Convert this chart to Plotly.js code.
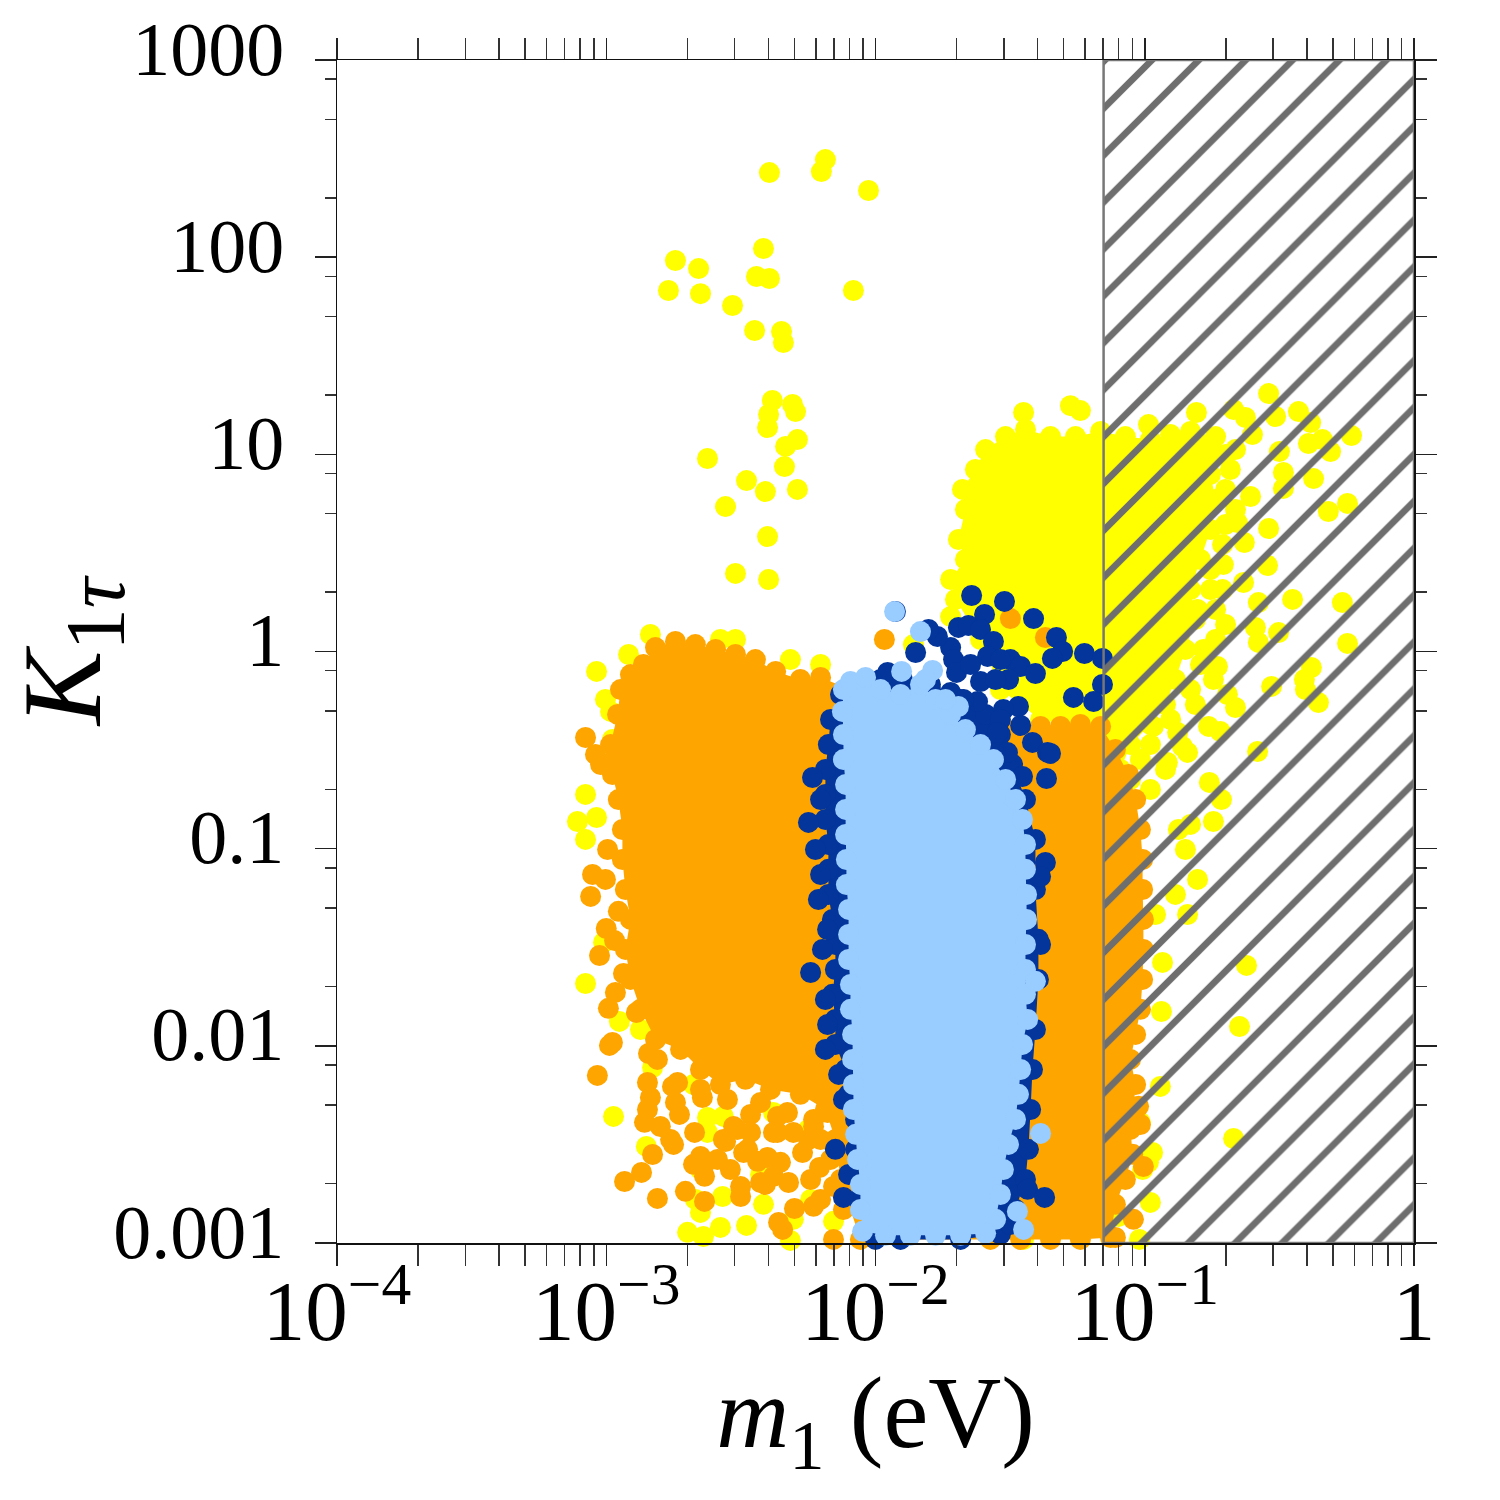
<!DOCTYPE html>
<html><head><meta charset="utf-8">
<script src="https://cdn.plot.ly/plotly-3.0.1.min.js"></script>
<style>html,body{margin:0;padding:0;background:#fff}</style>
</head><body><div id="chart" style="width:1500px;height:1500px"></div>
<script>
const yellowBlobLogM=[-1.666,-1.692,-1.666,-1.677,-1.629,-1.591,-1.517,-1.443,-1.350,-1.257,-1.164,-1.072,-.979,-.904,-.830,-.737,-.700,-.756,-.737,-.756,-.793,-.830,-.812,-.849,-.886,-.923,-.979,-1.053,-1.090,-1.164,-1.387,-1.536,-1.610,-1.703,-1.721];
const yellowBlobLogK=[.467,.568,.720,.822,.923,1.024,1.090,1.126,1.090,1.090,1.116,1.090,1.075,1.100,1.116,1.090,.999,.898,.771,.619,.467,.314,.162,.010,-.142,-.269,-.370,-.472,-.598,-.396,-.345,-.193,.061,.264,.365];
const yellowLogM=[-2.394,-2.186,-2.201,-2.026,-2.416,-2.743,-2.657,-2.769,-2.650,-2.442,-2.394,-2.082,-2.531,-2.449,-2.349,-2.342,-2.383,-2.397,-2.308,-2.297,-2.401,-2.290,-2.334,-2.624,-2.338,-2.479,-2.409,-2.290,-2.557,-2.401,-2.520,-2.397,
-.540,-.514,-.429,-.384,-.232,-.392,-.310,-.500,-.340,-.485,-.485,-.373,-.318,-.247,-.540,-.630,-.544,-.451,-.266,-.247,-.503,-.589,-.578,-.381,-.407,-.403,-.355,-.529,-.581,-.719,-.760,-.663,-.693,-.730,-.782,-.607,-.656,-.578,-.633,-.708,-.756,-.804,-.968,-.878,-.860,-.979,-.916,-.841,-.763,-.745,-1.276,-1.239,-1.450,-.808,-.670,-.626,-.600,-.715,-.745,-.830,-.875,-.849,-.804,-.886,-.960,-.841,-.934,-.622,-.938,-.648,-.942,-.670,-1.016,-.971,-.986,-1.008,-.979,-1.020,-1.097,-1.450,-1.053,-.979,-.923,
-3.036,-2.984,-3.077,-3.107,-3.077,-3.036,-3.077,-2.973,-2.851,-2.951,-2.873,-2.828,-2.676,-2.624,-2.565,-2.624,-2.568,-2.698,-2.639,-2.576,-2.479,-2.416,-2.316,-2.305,-2.156,-3.010,-2.379,-2.249,-2.669,-2.650,-2.917,-2.836,-2.520,-2.576,-2.316,-3.003,-2.977,-2.204,-2.650,-2.427,-2.241,-1.859,-1.721,
-.682,-.700,-.663,-.700,-.711,-.756,-.711,-.737,-.700,-.737,-.793,-.830,-.812,-.904,-1.016,-.774,-.663,-.986];
const yellowLogK=[2.429,2.495,2.434,2.338,2.044,1.983,1.942,1.831,1.815,1.902,1.892,1.831,1.755,1.628,1.623,1.567,1.273,1.202,1.253,1.217,1.136,1.075,1.040,.979,.938,.867,.811,.822,.735,.583,.396,.365,
1.308,1.192,1.217,1.161,1.095,1.055,1.014,1.014,1.075,.908,.827,.877,.710,.751,.624,.553,.436,.264,.248,.041,.096,.122,.046,-.081,-.142,-.193,-.259,-.177,-.507,-.406,-.664,-.284,-.218,-.076,.010,.786,.654,.248,.350,.441,.314,.213,-.380,-.411,-.482,-.472,-.563,-.512,-.380,-.142,1.247,1.222,1.212,1.212,1.227,1.187,1.100,-.751,-.862,-.877,-.903,-1.004,-1.156,-1.232,-1.334,-1.334,-1.577,-1.592,-1.826,-1.902,-2.206,-2.470,-2.388,-2.541,-2.591,-2.627,-2.794,-2.982,-2.865,-2.982,-.649,-.700,-.598,
-.101,-.304,-.725,-.862,-.953,-.842,-1.684,-2.358,-2.510,-1.876,-1.917,-2.110,-2.196,-2.363,-2.358,-2.439,-2.764,-2.946,-2.967,-2.921,-2.911,-2.804,-2.987,-2.880,-2.890,-1.476,-2.338,-2.424,-2.779,-2.845,-.015,.086,.061,.061,-.041,-.243,-.446,-.066,-2.627,-2.652,-2.779,.035,.177,
.923,.822,.720,.644,.543,.416,.314,.213,.137,.061,-.066,-.193,-.269,-.345,-.548,1.024,1.024,1.151];

const orangeBlobLogM=[-2.862,-2.817,-2.743,-2.669,-2.594,-2.520,-2.446,-2.371,-2.279,-2.204,-2.093,-1.387,-1.313,-1.239,-1.164,-1.109,-1.060,-1.034,-1.016,-1.008,-1.008,-1.005,-1.005,-1.008,-1.016,-1.034,-1.053,-1.034,-1.042,-1.053,-1.045,-1.072,-1.109,-1.127,-1.239,-1.350,-1.461,-1.573,-2.056,-2.130,-2.149,-2.186,-2.279,-2.390,-2.483,-2.576,-2.650,-2.724,-2.817,-2.873,-2.910,-2.929,-2.910,-2.929,-2.940,-2.940,-2.955,-2.977,-2.984,-2.958,-2.947,-2.910];
const orangeBlobLogK=[-.066,.020,.051,.035,.010,-.015,-.041,-.101,-.142,-.132,-.193,-.380,-.380,-.370,-.380,-.497,-.624,-.751,-.903,-1.055,-1.207,-1.359,-1.511,-1.663,-1.815,-1.942,-2.069,-2.196,-2.323,-2.424,-2.550,-2.678,-2.804,-2.972,-2.982,-2.982,-2.982,-2.982,-2.982,-2.678,-2.475,-2.323,-2.246,-2.221,-2.170,-2.196,-2.120,-2.018,-1.968,-1.815,-1.663,-1.511,-1.359,-1.207,-1.055,-.903,-.751,-.624,-.472,-.319,-.193,-.117];
const orangeLogM=[-3.077,-3.040,-3.021,-2.977,-2.995,-3.051,-3.058,-3.003,-2.955,-3.000,-2.969,-3.025,-2.936,-2.966,-2.992,-2.888,-2.988,-2.977,-3.033,-2.843,-2.847,-2.836,-2.847,-2.858,-2.799,-2.750,-2.828,-2.869,-2.932,-2.810,-2.706,-2.635,-2.635,-2.676,-2.672,-2.728,-2.743,-2.754,-2.643,-2.557,-2.539,-2.501,-2.409,-2.490,-2.438,-2.323,-2.353,-2.271,-2.241,-2.208,-2.301,-2.230,-2.360,-2.345,-2.156,-2.204,-2.156,-2.119,-2.364,-2.513,-2.464,-2.364,-2.305,-1.967,-1.499,-1.369,-1.023,-1.016,-1.005,-1.042,-1.109,
-2.650,-2.587,-2.475,-2.401,-2.379,-2.249,-2.464,-2.527,-2.565,-2.230,-2.178,-2.379,-2.501,-2.427,-2.639,-2.230,-2.761,-2.327,-2.427,-2.550,-2.650,-2.735,-2.810,-2.204,-2.167];
const orangeLogK=[-.436,-.522,-.573,-.558,-1.004,-1.131,-1.242,-1.156,-1.318,-1.405,-1.466,-1.542,-1.633,-1.729,-1.810,-1.831,-1.998,-1.983,-2.150,-2.039,-2.186,-2.262,-2.323,-2.388,-2.409,-2.500,-2.551,-2.642,-2.688,-2.774,-2.738,-2.789,-2.662,-2.601,-2.439,-2.348,-2.287,-2.206,-2.262,-2.485,-2.627,-2.764,-2.703,-2.541,-2.586,-2.693,-2.591,-2.541,-2.678,-2.617,-2.825,-2.814,-2.896,-2.931,-2.982,-2.779,-2.713,-2.830,-2.439,-2.424,-2.348,-2.358,-2.439,.061,.167,.071,-2.307,-2.399,-2.612,-2.880,-2.972,
-2.561,-2.576,-2.525,-2.566,-2.439,-2.475,-2.439,-2.409,-2.475,-2.373,-2.338,-2.662,-2.713,-2.693,-2.612,-2.409,-2.475,-2.338,-2.287,-2.272,-2.221,-2.186,-2.069,-2.475,-2.576];

const navyBlobLogM=[-2.130,-2.167,-2.175,-2.186,-2.186,-2.186,-2.175,-2.175,-2.175,-2.160,-2.149,-2.149,-2.160,-2.149,-2.149,-2.111,-2.100,-2.074,-2.074,-2.074,-2.063,-2.000,-1.907,-1.684,-1.536,-1.480,-1.443,-1.432,-1.424,-1.417,-1.406,-1.395,-1.395,-1.406,-1.406,-1.443,-1.491,-1.536,-1.591,-1.684,-1.796,-1.981];
const navyBlobLogK=[-.218,-.345,-.472,-.598,-.725,-.852,-.979,-1.105,-1.232,-1.359,-1.486,-1.613,-1.739,-1.866,-1.993,-2.120,-2.246,-2.373,-2.525,-2.652,-2.779,-2.982,-2.982,-2.982,-2.956,-2.830,-2.678,-2.525,-2.323,-2.120,-1.917,-1.663,-1.460,-1.207,-.953,-.751,-.573,-.421,-.319,-.243,-.167,-.142];
const navyLogM=[-2.234,-2.249,-2.204,-2.223,-2.204,-2.212,-2.178,-2.241,-2.197,-2.186,-2.178,-2.186,-2.137,-2.119,-2.149,-2.100,-2.119,-1.369,-1.387,-1.387,-1.435,-1.372,-1.499,
-1.643,-1.521,-1.413,-1.595,-1.692,-1.655,-1.610,-1.562,-1.721,-1.770,-1.803,-1.851,-1.710,-1.699,-1.610,-1.584,-1.499,-1.461,-1.506,-1.406,-1.328,-1.305,-1.343,-1.224,-1.157,-1.157,-1.190,-1.265,-1.621,-1.469,-1.525,-1.536,-1.461,-1.417,-1.361,-1.350,-1.365,-1.454,-1.955,-1.900,-1.796,-1.721,-1.673,-1.547,-1.510,-1.926,-1.647,-1.536,-1.554];
const navyLogK=[-.639,-.867,-.751,-1.004,-1.131,-1.258,-1.410,-1.628,-1.511,-1.765,-1.892,-2.018,-2.145,-2.272,-2.525,-2.652,-2.769,-1.070,-1.141,-1.486,-2.728,-2.769,-2.906,
.284,.254,.167,.188,.122,.132,.112,.051,.020,.076,.112,-.005,-.041,-.106,-.152,-.025,-.041,-.076,-.142,-.112,.071,.000,-.035,-.010,-.035,-.167,-.254,-.233,-.254,-.279,-.294,-.345,-.375,-.461,-.512,-.517,-.644,-.634,-.106,-.142,-.193,-.208,-.243,-.411,-.512,.203,-.066,-.041,-.142];

const skyBlobLogM=[-2.119,-2.093,-2.037,-1.981,-1.907,-1.833,-1.777,-1.721,-1.666,-1.610,-1.562,-1.517,-1.480,-1.454,-1.443,-1.443,-1.439,-1.439,-1.443,-1.443,-1.443,-1.435,-1.454,-1.461,-1.469,-1.480,-1.506,-1.525,-1.536,-1.554,-1.591,-1.684,-1.777,-1.870,-1.963,-2.048,-2.056,-2.056,-2.067,-2.074,-2.082,-2.082,-2.085,-2.085,-2.093,-2.093,-2.100,-2.100,-2.100,-2.108,-2.108,-2.111,-2.111,-2.111,-2.119,-2.119,-2.123];
const skyBlobLogK=[-.193,-.152,-.132,-.193,-.218,-.167,-.243,-.319,-.396,-.472,-.548,-.649,-.751,-.852,-.979,-1.105,-1.232,-1.359,-1.486,-1.613,-1.739,-1.866,-1.993,-2.120,-2.246,-2.373,-2.500,-2.627,-2.754,-2.880,-2.951,-2.961,-2.961,-2.961,-2.961,-2.941,-2.830,-2.703,-2.576,-2.449,-2.323,-2.196,-2.069,-1.942,-1.815,-1.689,-1.562,-1.435,-1.308,-1.182,-1.055,-.928,-.801,-.674,-.548,-.421,-.304];
const skyLogM=[-1.929,-1.833,-1.903,-1.788,-1.692,-1.740,-1.814,-1.387,-1.406,-1.473,-1.450];
const skyLogK=[.203,.101,-.101,-.096,-.279,-.243,-.142,-2.444,-1.673,-2.840,-2.931];

// excluded region
const excludedM=[0.0703,1,1,0.0703,0.0703];
const excludedK=[0.001,0.001,1000,1000,0.001];

const xTickVals=[1e-4,1e-3,1e-2,1e-1,1];
const xTickText=['10<sup>\u22124</sup>','10<sup>\u22123</sup>','10<sup>\u22122</sup>','10<sup>\u22121</sup>','1'];
const yTickVals=[1e-3,1e-2,1e-1,1,10,100,1000];
const yTickText=['0.001','0.01','0.1','1','10','100','1000'];
const xMinor=[];[1e-4,1e-3,1e-2,1e-1].forEach(d=>[2,3,4,5,6,7,8,9].forEach(k=>xMinor.push(k*d)));
const yMinor=[];[1e-3,1e-2,1e-1,1,10,100].forEach(d=>[2,5,8].forEach(k=>yMinor.push(k*d)));

const pow=a=>a.map(v=>Math.pow(10,v));
const MS=21;
const blob=(x,y,c)=>({type:'scatter',mode:'markers',x:pow(x),y:pow(y),fill:'toself',fillcolor:c,
  marker:{size:MS,color:c,line:{width:0}},cliponaxis:false,hoverinfo:'skip',showlegend:false});
const dots=(x,y,c)=>({type:'scatter',mode:'markers',x:pow(x),y:pow(y),
  marker:{size:MS,color:c,line:{width:0}},cliponaxis:false,hoverinfo:'skip',showlegend:false});

const YEL='#ffff00',ORG='#ffa500',NAV='#03359a',SKY='#99ccff';
const traces=[
 blob(yellowBlobLogM,yellowBlobLogK,YEL),dots(yellowLogM,yellowLogK,YEL),
 blob(orangeBlobLogM,orangeBlobLogK,ORG),dots(orangeLogM,orangeLogK,ORG),
 blob(navyBlobLogM,navyBlobLogK,NAV),dots(navyLogM,navyLogK,NAV),
 blob(skyBlobLogM,skyBlobLogK,SKY),dots(skyLogM,skyLogK,SKY),
 {type:'scatter',mode:'lines',x:excludedM,y:excludedK,xaxis:'x2',yaxis:'y2',fill:'toself',
  fillcolor:'rgba(0,0,0,0)',line:{color:'#777777',width:2.5},cliponaxis:false,
  fillpattern:{shape:'/',size:33.16,solidity:0.2,fgcolor:'#6e6e6e',bgcolor:'rgba(0,0,0,0)',fgopacity:1},
  hoverinfo:'skip',showlegend:false}
];
const FONT='"Liberation Serif", serif';
const layout={
 width:1500,height:1500,margin:{l:337,r:86,t:60,b:257},paper_bgcolor:'#fff',plot_bgcolor:'rgba(0,0,0,0)',showlegend:false,
 font:{family:FONT,color:'#000'},
 xaxis:{type:'log',domain:[0,1],range:[-4,0],tickmode:'array',tickvals:xTickVals,ticktext:xTickText,
  tickfont:{size:85,family:FONT,color:'#000'},ticks:'outside',ticklen:21,tickwidth:1.5,tickcolor:'#222',
  ticklabelstandoff:-28,
  minor:{tickmode:'array',tickvals:xMinor,ticks:'outside',ticklen:21,tickwidth:1.5,tickcolor:'#333',showgrid:false},
  showline:true,linecolor:'#111',linewidth:1.5,mirror:'ticks',showgrid:false,zeroline:false,tickangle:0,
  title:{text:'<i>m</i><sub>1</sub> (eV)',font:{size:101,family:FONT,color:'#000'},standoff:0}},
 yaxis:{type:'log',domain:[0,1],range:[-3,3],tickmode:'array',tickvals:yTickVals,ticktext:yTickText,
  tickfont:{size:76,family:FONT,color:'#000'},ticks:'outside',ticklen:21,tickwidth:1.5,tickcolor:'#222',
  ticklabelstandoff:15,ticklabelshift:-12,
  minor:{tickmode:'array',tickvals:yMinor,ticks:'outside',ticklen:11,tickwidth:1.5,tickcolor:'#333',showgrid:false},
  showline:true,linecolor:'#111',linewidth:1.5,mirror:'ticks',showgrid:false,zeroline:false,
  title:{text:'<i>K</i><sub><span style="font-size:85px">1<i>\u03c4</i></span></sub>',font:{size:112,family:FONT,color:'#000'},standoff:40}},
 xaxis2:{type:'log',domain:[0.6696,1],range:[-1.3218,0],visible:false,anchor:'y2'},
 yaxis2:{type:'log',domain:[0,1],range:[-3,3],visible:false,anchor:'x2'}
};
Plotly.newPlot('chart',traces,layout,{staticPlot:true,displayModeBar:false});
</script></body></html>
